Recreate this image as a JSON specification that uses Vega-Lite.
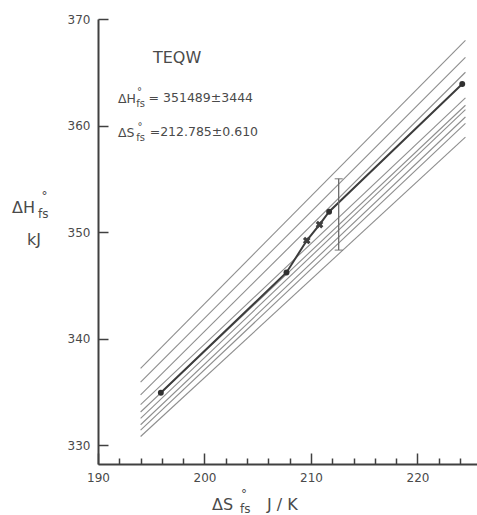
{
  "$schema": "https://vega.github.io/schema/vega-lite/v6.json",
  "width": 379,
  "height": 445,
  "autosize": {"type": "none"},
  "padding": {"left": 98, "top": 19, "right": 0, "bottom": 51},
  "background": "white",
  "config": {
    "view": {"stroke": null},
    "text": {"font": "DejaVu Sans", "color": "#4a4a4a", "align": "left", "baseline": "alphabetic"},
    "axis": {"labelFont": "DejaVu Sans", "labelColor": "#4a4a4a", "labelFontSize": 12, "domainColor": "#404040", "domainWidth": 2, "tickColor": "#404040", "tickWidth": 1.5, "grid": false, "title": null, "labelOverlap": false}
  },
  "datasets": {
    "lines": [
      {"id": 1, "S": 194.0, "H": 337.2}, {"id": 1, "S": 224.5, "H": 368.0},
      {"id": 2, "S": 194.0, "H": 335.9}, {"id": 2, "S": 224.5, "H": 366.4},
      {"id": 3, "S": 194.0, "H": 334.7}, {"id": 3, "S": 224.5, "H": 365.0},
      {"id": 4, "S": 194.0, "H": 333.8}, {"id": 4, "S": 224.5, "H": 362.6},
      {"id": 5, "S": 194.0, "H": 333.1}, {"id": 5, "S": 224.5, "H": 361.9},
      {"id": 6, "S": 194.0, "H": 332.5}, {"id": 6, "S": 224.5, "H": 361.5},
      {"id": 7, "S": 194.0, "H": 331.9}, {"id": 7, "S": 224.5, "H": 360.8},
      {"id": 8, "S": 194.0, "H": 331.4}, {"id": 8, "S": 224.5, "H": 360.2},
      {"id": 9, "S": 194.0, "H": 330.8}, {"id": 9, "S": 224.5, "H": 358.9}
    ],
    "main": [
      {"S": 195.9, "H": 334.9}, {"S": 207.7, "H": 346.2}, {"S": 209.6, "H": 349.2},
      {"S": 210.8, "H": 350.7}, {"S": 211.7, "H": 351.9}, {"S": 224.2, "H": 363.9}
    ],
    "dots": [
      {"S": 195.9, "H": 334.9}, {"S": 207.7, "H": 346.2}, {"S": 211.7, "H": 351.9}, {"S": 224.2, "H": 363.9}
    ],
    "crosses": [
      {"S": 209.6, "H": 349.2}, {"S": 210.8, "H": 350.7}
    ],
    "err": [{"S": 212.6, "lo": 348.3, "hi": 355.0, "mid": 351.5}],
    "big": [{"S": 195.16, "H": 365.87, "t": "TEQW"}],
    "norm": [
      {"S": 191.88, "H": 362.11, "t": "ΔH"},
      {"S": 194.75, "H": 362.21, "t": "= 351489±3444"},
      {"S": 191.88, "H": 358.92, "t": "ΔS"},
      {"S": 194.85, "H": 359.01, "t": "=212.785±0.610"}
    ],
    "small": [
      {"S": 193.66, "H": 362.85, "t": "°"},
      {"S": 193.6, "H": 361.74, "t": "fs"},
      {"S": 193.7, "H": 359.6, "t": "°"},
      {"S": 193.6, "H": 358.54, "t": "fs"}
    ],
    "titles": [
      {"S": 181.92, "H": 351.78, "t": "ΔH"},
      {"S": 183.33, "H": 348.78, "t": "kJ"},
      {"S": 200.7, "H": 323.9, "t": "ΔS"},
      {"S": 205.87, "H": 323.9, "t": "J / K"}
    ],
    "titlesSmall": [
      {"S": 184.7, "H": 353.0, "t": "°"},
      {"S": 184.37, "H": 351.31, "t": "fs"},
      {"S": 203.43, "H": 325.0, "t": "°"},
      {"S": 203.33, "H": 323.65, "t": "fs"}
    ]
  },
  "resolve": {"axis": {"x": "independent"}},
  "encoding": {
    "x": {"field": "S", "type": "quantitative", "axis": null,
      "scale": {"domain": [190, 225.587], "nice": false, "zero": false}},
    "y": {"field": "H", "type": "quantitative",
      "scale": {"domain": [328.216, 370], "nice": false, "zero": false}}
  },
  "layer": [
    {
      "data": {"name": "lines"},
      "mark": {"type": "line", "color": "#8e8e8e", "strokeWidth": 1.1},
      "encoding": {
        "detail": {"field": "id", "type": "nominal"},
        "x": {"field": "S", "type": "quantitative",
          "axis": {"orient": "bottom", "values": [190, 200, 210, 220], "tickSize": -11,
            "labelPadding": 19, "labelFlush": false, "labelOverlap": false, "labelBound": false}},
        "y": {"field": "H", "type": "quantitative",
          "axis": {"values": [330, 340, 350, 360, 370], "tickSize": -10, "labelPadding": 18, "labelOverlap": false}}
      }
    },
    {
      "data": {"name": "main"},
      "mark": {"type": "line", "color": "#3c3c3c", "strokeWidth": 2},
      "encoding": {
        "x": {"field": "S", "type": "quantitative",
          "axis": {"orient": "bottom", "values": [192,194,196,198,202,204,206,208,212,214,216,218,222,224],
            "tickSize": -6, "labels": false, "domain": false}}
      }
    },
    {
      "data": {"name": "dots"},
      "mark": {"type": "point", "filled": true, "color": "#303030", "size": 35, "opacity": 1},
      "encoding": {}
    },
    {
      "data": {"name": "crosses"},
      "mark": {"type": "point", "shape": "cross", "filled": true, "color": "#404040", "size": 60, "angle": 45, "opacity": 1},
      "encoding": {}
    },
    {
      "data": {"name": "err"},
      "mark": {"type": "rule", "color": "#6a6a6a", "strokeWidth": 1.3},
      "encoding": {"y": {"field": "lo", "type": "quantitative"}, "y2": {"field": "hi"}}
    },
    {
      "data": {"name": "err"},
      "mark": {"type": "tick", "orient": "horizontal", "color": "#6a6a6a", "size": 8, "thickness": 1.3},
      "encoding": {"y": {"field": "lo", "type": "quantitative"}}
    },
    {
      "data": {"name": "err"},
      "mark": {"type": "tick", "orient": "horizontal", "color": "#6a6a6a", "size": 8, "thickness": 1.3},
      "encoding": {"y": {"field": "hi", "type": "quantitative"}}
    },
    {
      "data": {"name": "big"},
      "mark": {"type": "text", "fontSize": 16},
      "encoding": {"text": {"field": "t"}}
    },
    {
      "data": {"name": "norm"},
      "mark": {"type": "text", "fontSize": 12.5},
      "encoding": {"text": {"field": "t"}}
    },
    {
      "data": {"name": "small"},
      "mark": {"type": "text", "fontSize": 10},
      "encoding": {"text": {"field": "t"}}
    },
    {
      "data": {"name": "titles"},
      "mark": {"type": "text", "fontSize": 16},
      "encoding": {"text": {"field": "t"}}
    },
    {
      "data": {"name": "titlesSmall"},
      "mark": {"type": "text", "fontSize": 12},
      "encoding": {"text": {"field": "t"}}
    }
  ]
}
